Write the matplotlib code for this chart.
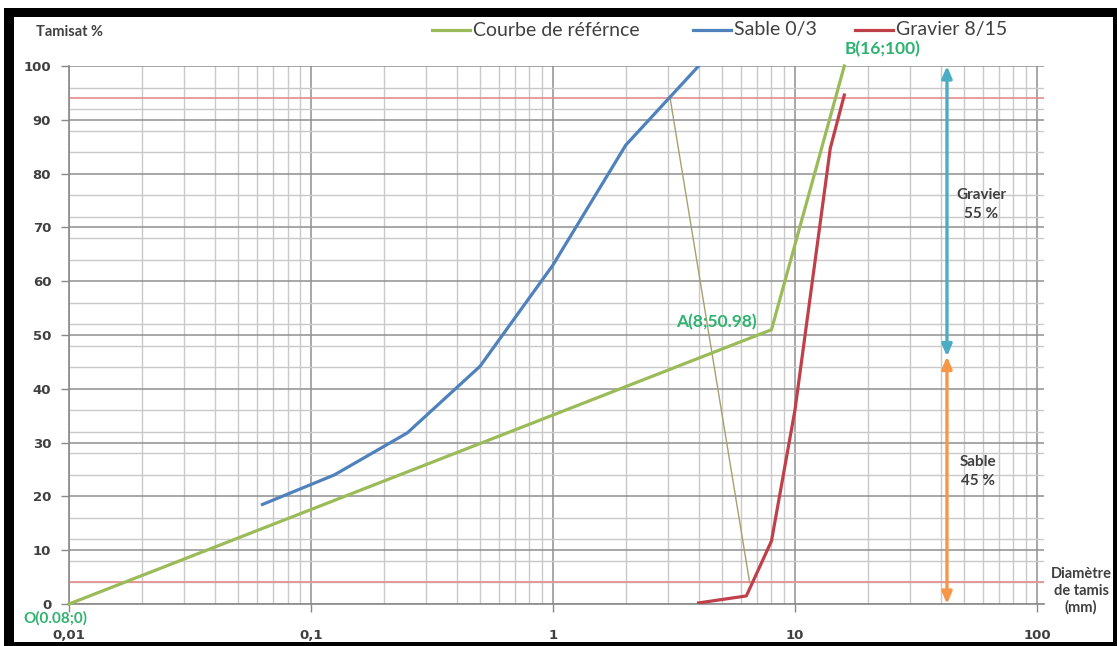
import matplotlib
matplotlib.use("Agg")
import matplotlib.pyplot as plt
from matplotlib.ticker import LogLocator, MultipleLocator, NullFormatter
from matplotlib.patches import Rectangle
from matplotlib.lines import Line2D

# ---- data -------------------------------------------------------------
ref_x = [0.01, 8, 16]                      # reference grading curve (O, A, B)
ref_y = [0, 50.98, 100]

sand_x = [0.063, 0.125, 0.25, 0.5, 1, 2, 4]   # Sable 0/3
sand_y = [18.5, 24.0, 31.8, 44.2, 63.0, 85.3, 100]

gravel_x = [4, 6.3, 8, 10, 14, 16]            # Gravier 8/15
gravel_y = [0.2, 1.5, 11.7, 36.0, 84.7, 94.6]

split_x = [3.05, 6.5]                      # line joining 94 % sand to 4 % gravel
split_y = [94, 4]

limit_levels = [94, 4]                     # horizontal limit lines

arrow_x = 42.5
sand_share = 46                            # arrow split level
x_ticks = [0.01, 0.1, 1, 10, 100]
x_tick_labels = ["0,01", "0,1", "1", "10", "100"]
y_ticks = list(range(0, 101, 10))
y_tick_labels = [str(v) for v in y_ticks]

GREEN = "#9bbb59"
BLUE = "#4f81bd"
RED = "#c0404a"
LABEL_GREEN = "#2db36f"
TXT = "#404040"
UI_FONT = ["Lato", "DejaVu Sans"]

W, H = 1117, 646
fig = plt.figure(figsize=(W / 100, H / 100), dpi=100)
ax = fig.add_axes([69 / W, 42 / H, (1044 - 69) / W, (604 - 66) / H])

ax.set_xscale("log")
ax.set_xlim(0.01, 107)
ax.set_ylim(0, 100)

# grid
ax.xaxis.set_minor_locator(LogLocator(base=10, subs=range(2, 10), numticks=20))
ax.xaxis.set_minor_formatter(NullFormatter())
ax.yaxis.set_minor_locator(MultipleLocator(4))
ax.grid(which="minor", color="#c9c9c9", lw=1.0)
ax.grid(which="major", color="#8f8f8f", lw=1.1)
ax.set_axisbelow(True)

ax.set_xticks(x_ticks)
ax.set_xticklabels(x_tick_labels, fontweight="bold", family="DejaVu Sans")
ax.set_yticks(y_ticks)
ax.set_yticklabels(y_tick_labels, fontweight="bold", family="DejaVu Sans")
ax.tick_params(which="major", length=5.8, width=1, color="#888888",
               labelsize=9.5, labelcolor=TXT)
ax.tick_params(axis="x", pad=12)
ax.tick_params(axis="y", pad=7)
ax.tick_params(which="minor", length=0)

for side in ("top", "right"):
    ax.spines[side].set_visible(False)
for side in ("left", "bottom"):
    ax.spines[side].set_color("#8a8a8a")
    ax.spines[side].set_linewidth(1.2)

# limit lines
for lvl in limit_levels:
    ax.axhline(lvl, color="#e38c8c", lw=1.2, zorder=2)

# curves
ax.plot(split_x, split_y, color="#a8a070", lw=1.0, zorder=3)
ax.plot(ref_x, ref_y, color=GREEN, lw=2.3, zorder=4, clip_on=False)
ax.plot(sand_x, sand_y, color=BLUE, lw=2.3, zorder=4)
ax.plot(gravel_x, gravel_y, color=RED, lw=2.3, zorder=4)

# double arrows
ax.annotate("", xy=(arrow_x, 100), xytext=(arrow_x, sand_share),
            arrowprops=dict(arrowstyle="<|-|>,head_length=0.7,head_width=0.3",
                            color="#4bacc6", lw=2.4, shrinkA=0, shrinkB=0),
            zorder=5)
ax.annotate("", xy=(arrow_x, 0), xytext=(arrow_x, sand_share),
            arrowprops=dict(arrowstyle="<|-|>,head_length=0.7,head_width=0.3",
                            color="#f79646", lw=2.4, shrinkA=0, shrinkB=0),
            zorder=5, annotation_clip=False)

ax.text(59, 74.2, "Gravier\n55 %", ha="center", va="center", fontsize=11,
        fontweight="bold", color=TXT, family=UI_FONT, linespacing=1.45)
ax.text(57, 24.7, "Sable\n45 %", ha="center", va="center", fontsize=11,
        fontweight="bold", color=TXT, family=UI_FONT, linespacing=1.45)

# point labels
ax.text(16.1, 103.2, "B(16;100)", ha="left", va="center", fontsize=12.5,
        fontweight="bold", color=LABEL_GREEN, family=UI_FONT, clip_on=False)
ax.text(6.97, 52.4, "A(8;50.98)", ha="right", va="center", fontsize=12.5,
        fontweight="bold", color=LABEL_GREEN, family=UI_FONT)
ax.text(0.0088, -2.6, "O(0.08;0)", ha="center", va="center", fontsize=11,
        fontweight="bold", color=LABEL_GREEN, family=UI_FONT, clip_on=False)

# axis titles
fig.text(69 / W, 1 - 32 / H, "Tamisat %", ha="center", va="center",
         fontsize=10.5, fontweight="bold", color=TXT, family=UI_FONT)
fig.text(1081 / W, 1 - 591 / H, "Diamètre\nde tamis\n(mm)", ha="center",
         va="center", fontsize=10.5, fontweight="bold", color=TXT,
         family=UI_FONT, linespacing=1.25)

# legend row
legend_items = [("Courbe de référnce", GREEN, 432), ("Sable 0/3", BLUE, 693),
                ("Gravier 8/15", RED, 855)]
for label, col, x0 in legend_items:
    y = 1 - 30 / H
    fig.add_artist(Line2D([x0 / W, (x0 + 38) / W], [y, y], color=col, lw=2.3))
    fig.text((x0 + 41) / W, y, label, ha="left", va="center", fontsize=14,
             color=TXT, family=UI_FONT)

# black frame
def frame_bar(x0, y0, x1, y1):
    fig.add_artist(Rectangle((x0 / W, 1 - y1 / H), (x1 - x0) / W, (y1 - y0) / H,
                             transform=fig.transFigure, color="black", lw=0,
                             zorder=20))

frame_bar(4, 8, 14, 646)
frame_bar(4, 8, 1117, 17)
frame_bar(1113, 8, 1117, 646)
frame_bar(4, 642, 1117, 646)

fig.savefig("out.png", dpi=100)
